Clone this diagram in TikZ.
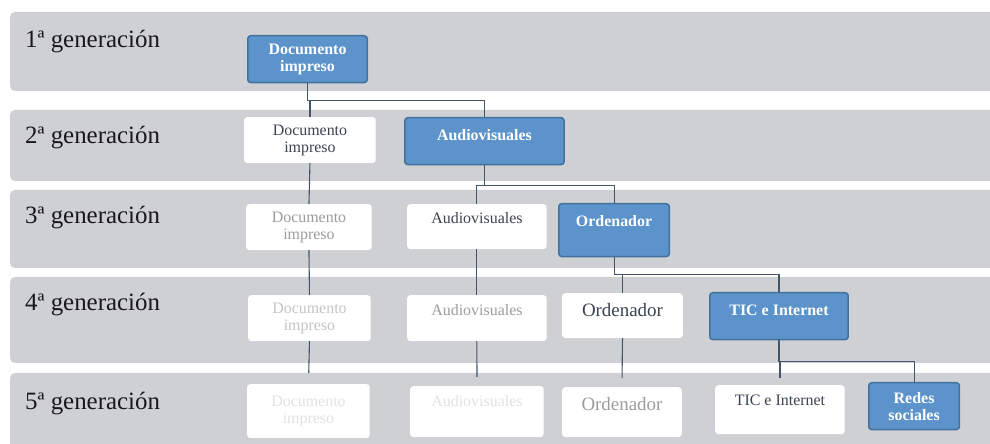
\documentclass[tikz,border=0pt]{standalone}
\usepackage{fontspec}
\setmainfont{Liberation Serif}
\usepackage{tikz}
\usetikzlibrary{positioning}
\definecolor{bandgray}{HTML}{CFD0D4}
\definecolor{newblue}{HTML}{5B93CA}
\definecolor{newedge}{HTML}{41719C}
\definecolor{linkcol}{HTML}{44546A}
\definecolor{textdark}{HTML}{3B4252}
\definecolor{fadeA}{HTML}{9C9C9C}
\definecolor{fadeB}{HTML}{C4C4C4}
\definecolor{fadeC}{HTML}{E2E2E2}

\begin{document}
\begin{tikzpicture}[x=1bp,y=-1bp,
    band/.style={fill=bandgray,rounded corners=5bp},
    gen/.style={anchor=base west,inner sep=0pt,font=\fontsize{25}{28}\selectfont,text=black!90},
    box/.style={anchor=north west,inner sep=0pt,rounded corners=3bp,align=center,
                font=\fontsize{16}{17}\selectfont},
    size/.style 2 args={minimum width=#1,minimum height=#2},
    top/.style 2 args={text height=#1,text depth=#2},
    new/.style={box,fill=newblue,draw=newedge,line width=1.5bp,text=white,
                font=\bfseries\fontsize{16}{17}\selectfont},
    old/.style={box,fill=white,text=textdark},
    big/.style={font=\fontsize{19}{21}\selectfont},
    link/.style={draw=linkcol,line width=1.1bp},
    fork/.style={to path={-- ++(0,#1) -| (\tikztotarget)}}]

    \useasboundingbox (0,0) rectangle (990,444);
    \clip (0,0) rectangle (990,444);

    % generation bands
    \foreach \t/\b in {12/91,110/181,190/268,277/363,373/460}
      \fill[band] (10,\t) rectangle (1010,\b);
    \foreach \n/\y in {1/48,2/144,3/224,4/311,5/409}
      \node[gen] (g\n) at (25,\y) {{\n}ª generación};

    % 1st and 2nd generation
    \node[new,size={120}{47}]                 (d1) at (247,35)  {Documento\\impreso};
    \node[old,size={132}{46}]                 (d2) at (244,117) {Documento\\impreso};
    \node[new,size={160}{47},top={22.5}{24.5}] (a2) at (404,117) {Audiovisuales};

    % 3rd generation
    \node[old,text=fadeA,size={126}{46}]      (d3) at (246,204) {Documento\\impreso};
    \node[old,size={140}{45},top={19.5}{25.5}] (a3) at (407,204) {Audiovisuales};
    \node[new,size={111}{53},top={22.5}{30.5}] (o3) at (558,203) {Ordenador};

    % 4th generation
    \node[old,text=fadeB,size={123}{46}]      (d4) at (248,295) {Documento\\impreso};
    \node[old,text=fadeA,size={140}{46},top={20.5}{25.5}] (a4) at (407,295) {Audiovisuales};
    \node[old,big,size={121}{45},top={23.5}{21.5}] (o4) at (562,293) {Ordenador};
    \node[new,size={139}{47},top={22.5}{24.5}] (t4) at (709,292) {TIC e Internet};

    % 5th generation
    \node[old,text=fadeC,size={123}{54}]      (d5) at (247,384) {Documento\\impreso};
    \node[old,text=fadeC,size={134}{51},top={20.5}{30.5}] (a5) at (410,386) {Audiovisuales};
    \node[old,big,text=fadeA,size={120}{50},top={23.5}{26.5}] (o5) at (562,387) {Ordenador};
    \node[old,size={130}{49},top={20.5}{28.5}] (t5) at (715,385) {TIC e Internet};
    \node[new,size={91}{47}]                  (r5) at (868,382) {Redes\\sociales};

    \path[link] (d1.south) edge[fork=17] (d2.north)
                           edge[fork=17] (a2.north)
                (d2.south) edge (d3.north)
                (d3.south) edge (d4.north)
                (d4.south) edge[shorten >=11bp] (d5.north)
                (a2.south) edge[fork=20] (a3.north)
                           edge[fork=20] (o3.north)
                (a3.south) edge (a4.north)
                (a4.south) edge[shorten >=9bp] (a5.north)
                (o3.south) edge[fork=17] (o4.north)
                           edge[fork=17] (t4.north)
                (o4.south) edge[shorten >=9bp] (o5.north)
                (t4.south) edge[fork=21,shorten >=7bp] (t5.north)
                           edge[fork=21] (r5.north);
\end{tikzpicture}
\end{document}
